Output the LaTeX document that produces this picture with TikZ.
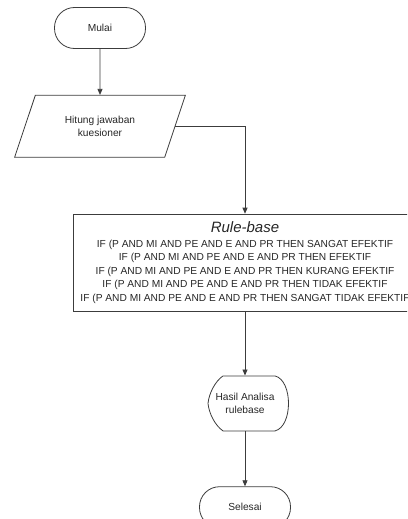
\documentclass[tikz,border=0pt]{standalone}
\usepackage{fontspec}
\setmainfont{Liberation Sans}
\usetikzlibrary{positioning, arrows.meta, shapes.geometric, calc}
\definecolor{linegray}{HTML}{3C3C3C}
\definecolor{textgray}{HTML}{262626}

\begin{document}
\begin{tikzpicture}[
			x=1pt, y=-1pt,
			node distance=46pt,
			terminal/.style={rectangle, draw=linegray, rounded corners=20pt, minimum width=91pt, minimum height=41pt, text centered, align=center},
			inputbox/.style={trapezium, draw=linegray, trapezium left angle=66, trapezium right angle=114, trapezium stretches=true, minimum width=171pt, minimum height=62pt, align=center},
			rulebox/.style={rectangle, draw=linegray, minimum width=344pt, minimum height=97pt, align=center, inner sep=0pt},
			displaybox/.style={rectangle, minimum width=66pt, minimum height=55pt, align=center, inner sep=0pt},
			arrow/.style={draw=linegray, -{Triangle[length=6pt, width=5pt]}},
			every node/.style={text=textgray, font=\fontsize{10.2}{13.5}\selectfont},
			line width=0.8pt
			]
			\path[use as bounding box, clip] (0,0) rectangle (407,519);
			
			% Nodes
			\node[terminal] (mulai) at (100,28) {Mulai};
			\node[inputbox, below=of mulai] (hitung) {Hitung jawaban\\kuesioner};
			
			\node[rulebox, below=56pt of hitung, xshift=145pt] (rule) {{\fontsize{15}{15}\selectfont\itshape Rule-base}\\[1pt]
				IF (P AND MI AND PE AND E AND PR THEN SANGAT EFEKTIF\\
				IF (P AND MI AND PE AND E AND PR THEN EFEKTIF\\
				IF (P AND MI AND PE AND E AND PR THEN KURANG EFEKTIF\\
				IF (P AND MI AND PE AND E AND PR THEN TIDAK EFEKTIF\\
				IF (P AND MI AND PE AND E AND PR THEN SANGAT TIDAK EFEKTIF};
			
			\node[displaybox, below=64pt of rule] (hasil) {Hasil Analisa\\rulebase};
			\node[terminal, below=55pt of hasil] (selesai) {Selesai};
			
			% Display outline round the result
			\draw[linegray, shift={(hasil.center)}] (-22,-27.5) -- (30,-27.5)
				.. controls (48,-23) and (48,23) .. (30,27.5) -- (-22,27.5)
				.. controls (-30,22) and (-36,10) .. (-37,0)
				.. controls (-36,-10) and (-30,-22) .. (-22,-27.5) -- cycle;
			
			% Arrows
			\draw[arrow] (mulai) -- (hitung);
			\draw[arrow] (hitung.east) -| (rule.north);
			\draw[arrow] (rule) -- (hasil);
			\draw[arrow] (hasil) -- (selesai);
			
		\end{tikzpicture}
\end{document}
